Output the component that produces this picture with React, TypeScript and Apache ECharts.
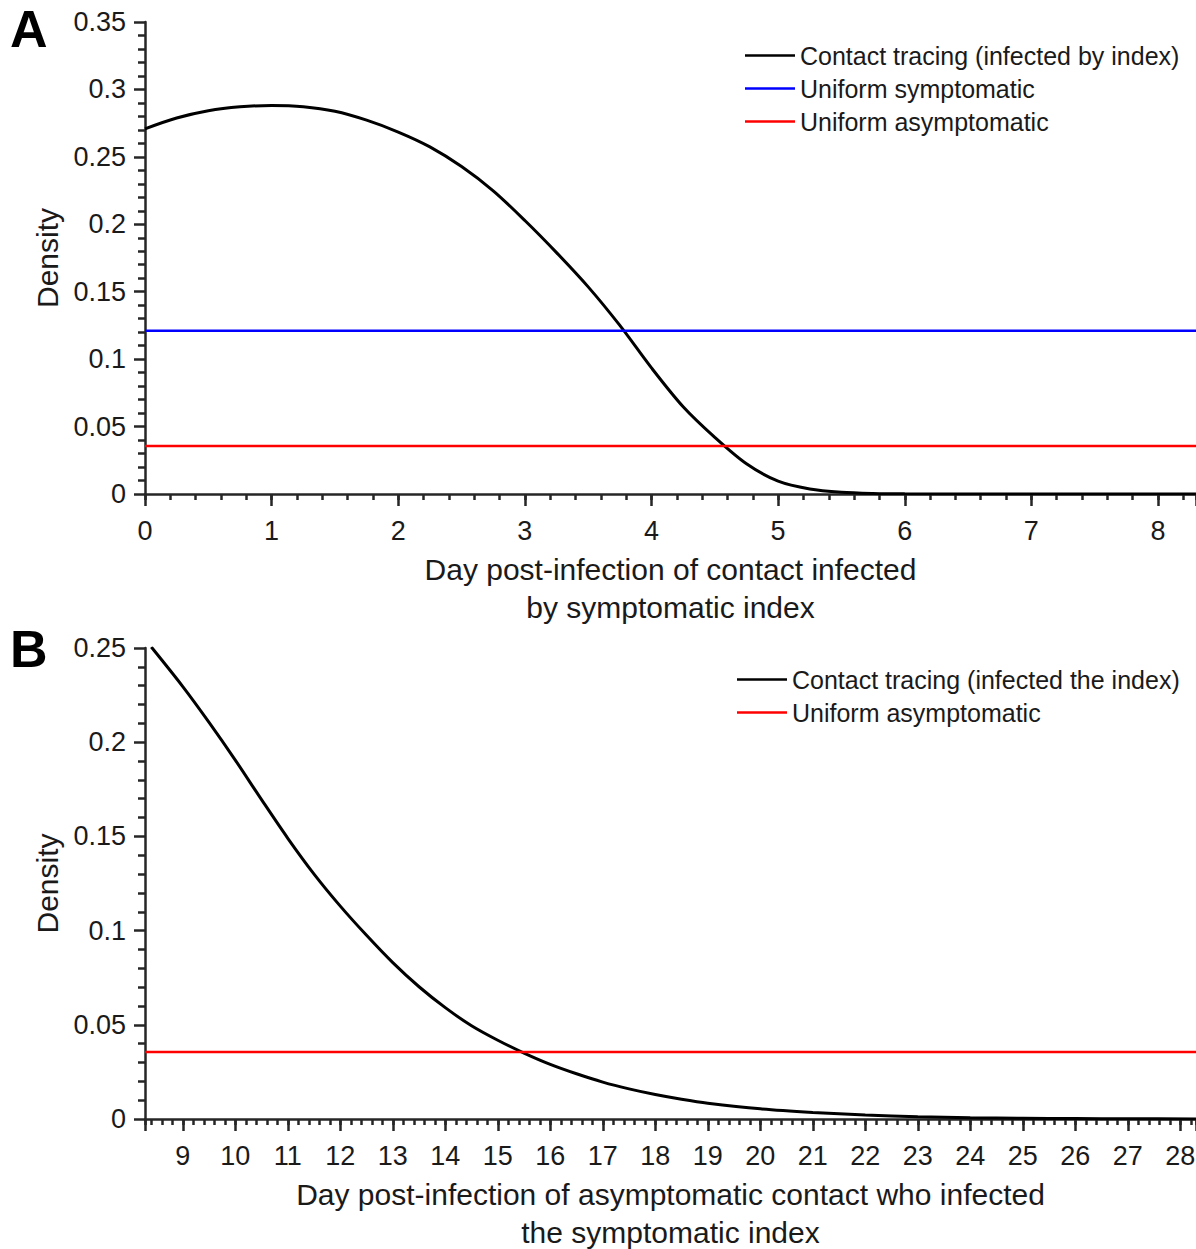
import React, { useEffect, useRef } from "react";
import * as echarts from "echarts";

// Panel A: density of day post-infection of contact infected by symptomatic index
const aDays = [0, 0.25, 0.5, 0.75, 1.0, 1.25, 1.5, 1.75, 2.0, 2.25, 2.5, 2.75, 3.0, 3.25, 3.5, 3.75, 4.0, 4.25, 4.5, 4.75, 5.0, 5.25, 5.5, 5.75, 6.0, 6.5, 7.0, 7.5, 8.0, 8.3];
const aContact = [0.2708, 0.2788, 0.2842, 0.2871, 0.2881, 0.2872, 0.2838, 0.2772, 0.2684, 0.2574, 0.2428, 0.2248, 0.2028, 0.179, 0.1536, 0.125, 0.0935, 0.0647, 0.042, 0.0224, 0.0095, 0.0037, 0.0013, 0.0004, 0.0001, 0, 0, 0, 0, 0];
const aUniformSymptomatic = 0.121;
const aUniformAsymptomatic = 0.0356;

// Panel B: density of day post-infection of asymptomatic contact who infected the index
const bDays = [8.4, 9, 9.5, 10, 10.5, 11, 11.5, 12, 12.5, 13, 13.5, 14, 14.5, 15, 15.5, 16, 16.5, 17, 17.5, 18, 18.5, 19, 20, 21, 22, 23, 24, 25, 26, 27, 28.3];
const bContact = [0.2505, 0.2295, 0.2105, 0.1905, 0.1695, 0.149, 0.13, 0.113, 0.0975, 0.083, 0.0702, 0.0591, 0.0495, 0.0418, 0.035, 0.029, 0.024, 0.0196, 0.016, 0.013, 0.0105, 0.0084, 0.0054, 0.0035, 0.0021, 0.0012, 0.0007, 0.0004, 0.0002, 0.0001, 0.00005];
const bUniformAsymptomatic = 0.0356;

const aXRange = [0, 8.3];
const bXRange = [8.28, 28.3];

const FONT = "'Liberation Sans', Arial, Helvetica, sans-serif";
const AXIS_COLOR = "#262626";
const TEXT_COLOR = "#1a1a1a";

export default function App() {
  const ref = useRef<HTMLDivElement>(null);

  useEffect(() => {
    if (!ref.current) return;
    const chart = echarts.init(ref.current, null, { renderer: "svg" });

    const intLabel = (v: number) => (Math.abs(v - Math.round(v)) < 1e-6 ? String(Math.round(v)) : "");

    const mainX = (gridIndex: number, min: number, max: number, name: string) => ({
      type: "value",
      gridIndex,
      min,
      max,
      splitNumber: 20,
      minInterval: 1,
      maxInterval: 1,
      name,
      nameLocation: "middle",
      nameGap: 56,
      nameTextStyle: { fontFamily: FONT, fontSize: 30, color: TEXT_COLOR, lineHeight: 38 },
      axisLine: { show: true, onZero: false, lineStyle: { color: AXIS_COLOR, width: 2.5 } },
      axisTick: { show: true, inside: false, length: 12, lineStyle: { color: AXIS_COLOR, width: 2.5 } },
      minorTick: { show: false },
      axisLabel: { fontFamily: FONT, fontSize: 27, color: TEXT_COLOR, margin: 23, formatter: intLabel },
      splitLine: { show: false },
    });
    const minorX = (gridIndex: number, min: number, max: number) => ({
      type: "value",
      gridIndex,
      min,
      max,
      position: "bottom",
      splitNumber: 100,
      minInterval: 0.2,
      maxInterval: 0.2,
      axisLine: { show: false },
      axisTick: { show: true, inside: false, length: 6, lineStyle: { color: AXIS_COLOR, width: 2.5 } },
      axisLabel: { show: false },
      splitLine: { show: false },
    });
    const yAx = (gridIndex: number, max: number) => ({
      type: "value",
      gridIndex,
      min: 0,
      max,
      interval: 0.05,
      name: "Density",
      nameLocation: "middle",
      nameGap: 80,
      nameTextStyle: { fontFamily: FONT, fontSize: 30, color: TEXT_COLOR },
      axisLine: { show: true, onZero: false, lineStyle: { color: AXIS_COLOR, width: 2.5 } },
      axisTick: { show: true, inside: false, length: 11, lineStyle: { color: AXIS_COLOR, width: 2.5 } },
      minorTick: { show: true, splitNumber: 5, length: 7, lineStyle: { color: AXIS_COLOR, width: 2.5 } },
      axisLabel: { fontFamily: FONT, fontSize: 27, color: TEXT_COLOR, margin: 19 },
      splitLine: { show: false },
    });

    const zip = (xs: number[], ys: number[]) => xs.map((x, i) => [x, ys[i]]);

    const legendBase = {
      orient: "vertical",
      padding: 0,
      itemWidth: 50,
      itemHeight: 2.5,
      itemGap: 0,
      icon: "rect",
      textStyle: { fontFamily: FONT, fontSize: 25, color: TEXT_COLOR, lineHeight: 33 },
    };

    chart.setOption({
      animation: false,
      backgroundColor: "#ffffff",
      grid: [
        { left: 145, top: 22, right: 0, height: 472, outerBoundsMode: "none", containLabel: false },
        { left: 145, top: 648, right: 0, height: 471, outerBoundsMode: "none", containLabel: false },
      ],
      xAxis: [
        mainX(0, aXRange[0], aXRange[1], "Day post-infection of contact infected\nby symptomatic index"),
        minorX(0, aXRange[0], aXRange[1]),
        mainX(1, bXRange[0], bXRange[1], "Day post-infection of asymptomatic contact who infected\nthe symptomatic index"),
        minorX(1, bXRange[0], bXRange[1]),
      ],
      yAxis: [yAx(0, 0.35), yAx(1, 0.25)],
      legend: [
        {
          ...legendBase,
          left: 745,
          top: 39,
          data: ["Contact tracing (infected by index)", "Uniform symptomatic", "Uniform asymptomatic"],
        },
        {
          ...legendBase,
          left: 737,
          top: 663,
          data: ["Contact tracing (infected the index)", "Uniform asymptomatic"],
        },
      ],
      graphic: [
        { type: "text", left: 10, top: 3, style: { text: "A", fontFamily: FONT, fontSize: 52, fontWeight: "bold", fill: "#000" } },
        { type: "text", left: 10, top: 623, style: { text: "B", fontFamily: FONT, fontSize: 52, fontWeight: "bold", fill: "#000" } },
      ],
      series: [
        {
          name: "Contact tracing (infected by index)",
          type: "line",
          xAxisIndex: 0,
          yAxisIndex: 0,
          data: zip(aDays, aContact),
          smooth: 0.3,
          showSymbol: false,
          symbol: "none",
          lineStyle: { color: "#000000", width: 3 },
          itemStyle: { color: "#000000" },
        },
        {
          name: "Uniform symptomatic",
          type: "line",
          xAxisIndex: 0,
          yAxisIndex: 0,
          data: [[aXRange[0], aUniformSymptomatic], [aXRange[1], aUniformSymptomatic]],
          showSymbol: false,
          symbol: "none",
          lineStyle: { color: "#0000ff", width: 2.5 },
          itemStyle: { color: "#0000ff" },
        },
        {
          name: "Uniform asymptomatic",
          type: "line",
          xAxisIndex: 0,
          yAxisIndex: 0,
          data: [[aXRange[0], aUniformAsymptomatic], [aXRange[1], aUniformAsymptomatic]],
          showSymbol: false,
          symbol: "none",
          lineStyle: { color: "#ff0000", width: 2.5 },
          itemStyle: { color: "#ff0000" },
        },
        {
          name: "Contact tracing (infected the index)",
          type: "line",
          xAxisIndex: 2,
          yAxisIndex: 1,
          data: zip(bDays, bContact),
          smooth: 0.3,
          showSymbol: false,
          symbol: "none",
          lineStyle: { color: "#000000", width: 3 },
          itemStyle: { color: "#000000" },
        },
        {
          name: "Uniform asymptomatic",
          type: "line",
          xAxisIndex: 2,
          yAxisIndex: 1,
          data: [[bXRange[0], bUniformAsymptomatic], [bXRange[1], bUniformAsymptomatic]],
          showSymbol: false,
          symbol: "none",
          lineStyle: { color: "#ff0000", width: 2.5 },
          itemStyle: { color: "#ff0000" },
        },
      ],
    });

    return () => chart.dispose();
  }, []);

  return (
    <div
      ref={ref}
      style={{ position: "fixed", left: 0, top: 0, width: 1196, height: 1249, background: "#fff" }}
    />
  );
}
